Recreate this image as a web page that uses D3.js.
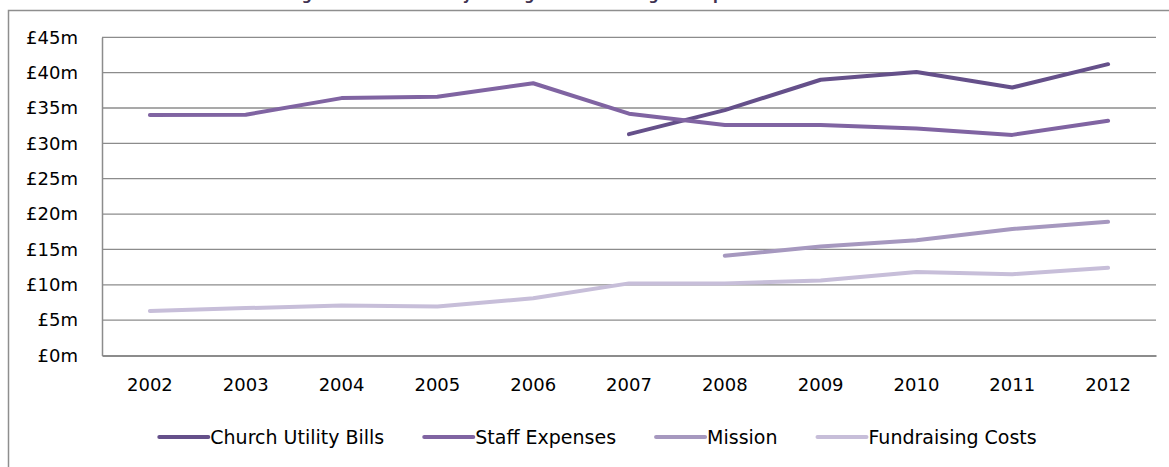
<!DOCTYPE html>
<html>
<head>
<meta charset="utf-8">
<script src="https://cdn.jsdelivr.net/npm/d3@7"></script>
<style>
    body { margin: 0; background: #fff; }
    svg { display: block; font-family: "DejaVu Sans", sans-serif; }
</style>
</head>
<body>
<div id="chart"></div>
<script>
// values, in £m
const years = ['2002', '2003', '2004', '2005', '2006', '2007', '2008', '2009', '2010', '2011', '2012'];
const churchUtilityBills = [null, null, null, null, null, 31.3, 34.7, 39.0, 40.1, 37.9, 41.2];
const staffExpenses = [34.0, 34.05, 36.4, 36.6, 38.5, 34.2, 32.6, 32.6, 32.1, 31.2, 33.2];
const mission = [null, null, null, null, null, null, 14.1, 15.4, 16.3, 17.9, 18.9];
const fundraisingCosts = [6.3, 6.7, 7.07, 6.93, 8.1, 10.2, 10.2, 10.6, 11.8, 11.5, 12.4];
const yTicks = [0, 5, 10, 15, 20, 25, 30, 35, 40, 45];
const title = 'Figure 3: Church Utility Bills against Other Regular Expenditure in Context';

const series = [
    { name: 'Church Utility Bills', values: churchUtilityBills, color: '#65508a' },
    { name: 'Staff Expenses', values: staffExpenses, color: '#8064a2' },
    { name: 'Mission', values: mission, color: '#a698bf' },
    { name: 'Fundraising Costs', values: fundraisingCosts, color: '#c7bed9' }
];

const width = 1169;
const height = 467;
const plot = { left: 102, right: 1156, top: 37.3, bottom: 355.5 };
const fontSize = 18;

const svg = d3.select('#chart').append('svg')
    .attr('width', width)
    .attr('height', height);

// outer chart frame (runs past the right and bottom edges)
svg.append('rect')
    .attr('x', 8.5).attr('y', 10.5)
    .attr('width', 1200).attr('height', 500)
    .attr('fill', 'none')
    .attr('stroke', '#8e8e8e')
    .attr('stroke-width', 1.5);

// title sits mostly above the picture, as in the source
svg.append('text')
    .attr('x', 582).attr('y', 0)
    .attr('text-anchor', 'middle')
    .attr('font-size', 14)
    .attr('font-weight', 'bold')
    .attr('fill', '#3f3151')
    .text(title);

const x = d3.scaleBand().domain(years).range([plot.left, plot.right]);
const y = d3.scaleLinear().domain([0, 45]).range([plot.bottom, plot.top]);

// gridlines
svg.append('g').selectAll('line')
    .data(yTicks.filter(t => t > 0))
    .enter().append('line')
    .attr('x1', plot.left).attr('x2', plot.right)
    .attr('y1', d => y(d)).attr('y2', d => y(d))
    .attr('stroke', '#8c8c8c')
    .attr('stroke-width', 1.3);

// y axis
const yAxis = svg.append('g')
    .attr('transform', `translate(${plot.left},0)`)
    .call(d3.axisLeft(y).tickValues(yTicks).tickSize(0).tickPadding(24).tickFormat(d => `£${d}m`));
yAxis.select('.domain').attr('stroke', '#8c8c8c').attr('stroke-width', 1.5);
yAxis.selectAll('text').attr('font-size', fontSize).attr('fill', '#000').attr('font-family', '"DejaVu Sans", sans-serif');

// x axis
const xAxis = svg.append('g')
    .attr('transform', `translate(0,${plot.bottom})`)
    .call(d3.axisBottom(x).tickSize(0).tickPadding(23));
xAxis.select('.domain').attr('stroke', '#8c8c8c').attr('stroke-width', 1.8);
xAxis.selectAll('text').attr('font-size', fontSize).attr('fill', '#000').attr('font-family', '"DejaVu Sans", sans-serif');

// lines
const line = d3.line()
    .defined(d => d.v !== null)
    .x(d => x(d.year) + x.bandwidth() / 2)
    .y(d => y(d.v));

svg.append('g').selectAll('path')
    .data(series)
    .enter().append('path')
    .attr('d', s => line(years.map((yr, i) => ({ year: yr, v: s.values[i] }))))
    .attr('fill', 'none')
    .attr('stroke', s => s.color)
    .attr('stroke-width', 4)
    .attr('stroke-linecap', 'round')
    .attr('stroke-linejoin', 'round');

// legend, laid out from measured text widths and centred
const legend = svg.append('g');
const items = legend.selectAll('g')
    .data(series)
    .enter().append('g');
items.append('line')
    .attr('x1', 0).attr('x2', 49)
    .attr('y1', 0).attr('y2', 0)
    .attr('stroke', d => d.color)
    .attr('stroke-width', 4)
    .attr('stroke-linecap', 'round');
items.append('text')
    .attr('x', 51)
    .attr('dy', '0.35em')
    .attr('font-size', 19)
    .attr('fill', '#000')
    .text(d => d.name);

let cursor = 0;
items.each(function () {
    const g = d3.select(this);
    g.attr('transform', `translate(${cursor},0)`);
    const w = 51 + g.select('text').node().getComputedTextLength();
    cursor += w + 40;
});
const legendWidth = cursor - 40;
legend.attr('transform', `translate(${598 - legendWidth / 2},437)`);
</script>
</body>
</html>
